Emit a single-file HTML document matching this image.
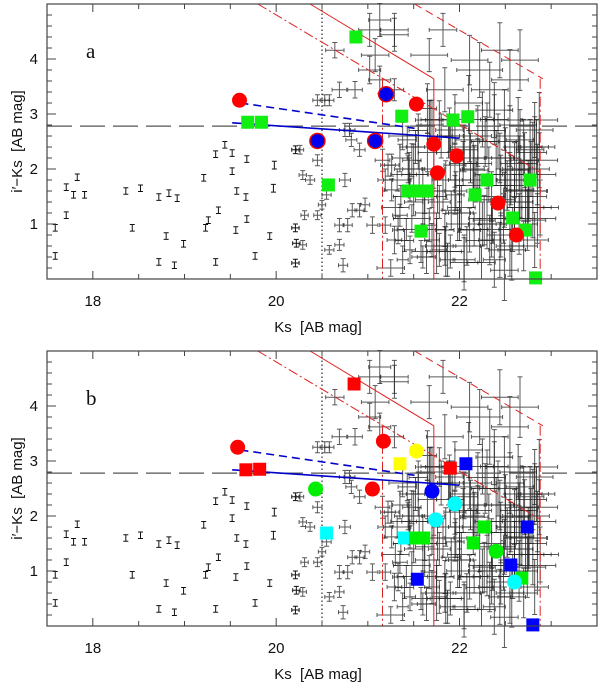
<!DOCTYPE html>
<html><head><meta charset="utf-8">
<style>
html,body{margin:0;padding:0;background:#fff;}
svg{display:block;font-family:"Liberation Sans",sans-serif;}
text{white-space:pre;}
</style></head>
<body>
<svg id="chart" width="600" height="682" viewBox="0 0 600 682" xmlns="http://www.w3.org/2000/svg"></svg>
<script>
// ---- data ----
const grayKs = [17.59,17.59,17.71,17.71,17.79,17.83,17.91,18.36,18.43,18.52,18.72,18.8,18.83,18.92,18.99,18.72,18.89,19.21,19.23,19.26,19.34,19.37,19.34,19.44,19.52,19.52,19.57,19.56,19.67,19.68,19.68,19.77,19.93,19.97,19.98,20.21,20.21,20.21,20.22,
20.26,20.29,20.37,20.45,20.45,20.53,20.58,20.5,20.45,20.55,20.31,20.29,20.58,20.69,20.75,20.8,20.69,20.64,20.75,20.82,20.86,20.91,20.83,20.91,20.97,20.69,20.78,20.73,21.05,21.19,21.16,21.22,21.08,21.02,21.13,21.29,21.26,21.19,21.26,21.35,21.33,21.38,21.46,21.29,21.46,21.43,21.48,21.62,21.67,21.7,21.78,21.84,21.87,21.91,21.95,22.0,21.95,21.84,21.78,21.67,21.89,22.05,22.11,22.16,22.22,22.27,22.33,22.38,22.44,22.11,22.05,22.49,22.55,22.6,22.66,22.71,22.77,22.66,22.49,22.38,22.33,22.22,22.11,22.44,22.55,22.66,22.82,22.87,22.87,22.74,22.57,22.49,22.82,21.82,21.67,21.29,21.13,21.02,21.29,
21.5,21.6,21.7,21.9,22.0,22.2,22.3,22.5,22.6,22.7,22.8,21.55,21.75,22.15,22.35,22.45,22.65,22.75,21.45,21.65,22.25,22.55,22.85,21.85,22.05,
21.3,21.35,21.4,21.45,21.5,21.55,21.6,21.65,21.7,21.75,21.8,21.85,21.9,21.95,22.0,22.05,22.1,22.15,22.2,22.25,22.3,22.35,22.4,22.45,22.5,22.55,22.6,22.65,22.7,22.75,22.8,22.85,
21.32,21.42,21.52,21.62,21.72,21.82,21.92,22.02,22.12,22.22,22.32,22.42,22.52,22.62,22.72,22.82,
21.38,21.58,21.78,21.98,22.18,22.38,22.58,22.78,21.48,21.68,21.88,22.08,22.28,22.48,22.68,22.88,
21.25,21.36,21.56,21.76,21.96,22.16,22.36,22.56,22.76,21.44,21.64,21.84,22.04,22.24,22.44,22.64,22.84];
const grayCol = [0.93,0.42,1.67,1.16,1.53,1.85,1.53,1.6,0.93,1.65,1.49,0.78,1.56,1.47,0.64,0.31,0.25,1.84,0.93,1.07,0.31,1.25,2.27,2.44,2.29,1.96,1.6,0.89,1.49,1.09,2.18,0.42,0.78,1.65,2.07,0.93,2.35,0.29,0.65,
2.35,1.89,1.8,2.16,3.25,3.25,3.25,1.35,1.16,1.53,1.16,0.62,0.53,0.62,1.8,2.71,3.44,4.16,2.71,2.53,3.44,2.35,1.25,1.25,1.35,0.98,0.98,0.25,0.98,0.98,2.16,2.07,4.07,3.8,3.62,3.44,2.07,1.8,1.62,1.16,0.89,0.35,0.53,0.71,1.62,2.53,2.16,1.44,0.98,0.71,0.53,0.89,0.35,1.25,1.53,1.8,2.07,3.44,2.89,2.89,2.71,2.35,2.53,1.98,1.44,1.07,0.71,0.35,0.53,0.89,0.35,1.44,1.8,1.98,1.62,2.16,2.35,2.53,2.89,3.07,3.44,3.8,3.98,4.16,3.62,3.98,2.71,2.89,2.16,1.07,0.53,0.16,0.71,4.53,4.07,4.44,4.71,4.53,4.53,
2.0,1.5,2.8,2.3,1.2,2.6,1.1,2.2,1.4,2.4,1.3,2.4,0.6,2.0,0.9,1.7,1.0,1.6,1.9,3.1,2.9,0.6,1.9,0.5,0.3,
1.3,2.2,0.7,1.9,1.4,2.7,0.4,2.3,1.6,0.9,2.6,1.8,0.5,2.9,1.2,2.4,3.2,1.7,2.1,1.0,2.7,1.5,2.2,0.8,1.9,2.6,1.4,2.1,0.6,1.5,2.3,1.1,
1.8,0.9,2.4,1.2,2.0,1.6,2.6,1.3,2.2,0.7,1.9,2.5,1.7,2.0,1.3,2.4,
2.6,0.5,1.4,1.0,1.8,2.9,0.9,2.0,1.1,2.9,2.6,0.6,2.5,1.1,1.6,1.3,
0.2,1.5,1.9,1.5,1.6,0.9,1.0,1.8,1.6,2.0,0.4,0.6,2.1,0.3,2.2,2.8,2.4];
const grayEk = [0.03,0.03,0.03,0.03,0.03,0.03,0.03,0.03,0.03,0.03,0.03,0.03,0.03,0.03,0.03,0.03,0.03,0.03,0.03,0.03,0.03,0.03,0.03,0.03,0.03,0.03,0.03,0.03,0.03,0.03,0.03,0.03,0.03,0.03,0.03,0.04,0.04,0.04,0.04,
0.04,0.04,0.05,0.05,0.05,0.05,0.05,0.04,0.04,0.05,0.04,0.04,0.05,0.05,0.06,0.06,0.08,0.1,0.06,0.06,0.08,0.06,0.05,0.05,0.05,0.05,0.05,0.05,0.06,0.06,0.08,0.08,0.15,0.12,0.12,0.1,0.08,0.08,0.08,0.08,0.06,0.06,0.06,0.08,0.08,0.1,0.1,0.1,0.08,0.08,0.08,0.1,0.08,0.1,0.1,0.12,0.12,0.2,0.15,0.15,0.15,0.15,0.15,0.15,0.12,0.12,0.12,0.12,0.12,0.12,0.12,0.12,0.15,0.15,0.15,0.15,0.15,0.15,0.2,0.2,0.2,0.25,0.2,0.2,0.2,0.2,0.2,0.2,0.2,0.2,0.15,0.15,0.15,0.15,0.2,0.15,0.12,0.12,0.15,0.12,
0.15,0.12,0.15,0.15,0.15,0.2,0.15,0.2,0.2,0.2,0.2,0.12,0.12,0.2,0.15,0.2,0.2,0.2,0.1,0.12,0.15,0.2,0.2,0.15,0.15,
0.08,0.1,0.08,0.1,0.1,0.12,0.1,0.12,0.1,0.12,0.15,0.12,0.15,0.12,0.15,0.15,0.2,0.15,0.15,0.2,0.15,0.2,0.15,0.2,0.15,0.2,0.2,0.15,0.2,0.15,0.2,0.15,
0.1,0.1,0.1,0.12,0.12,0.12,0.15,0.15,0.15,0.15,0.2,0.2,0.15,0.2,0.15,0.15,
0.1,0.12,0.12,0.15,0.15,0.15,0.2,0.2,0.1,0.12,0.15,0.15,0.15,0.2,0.2,0.15,
0.08,0.1,0.1,0.12,0.15,0.15,0.15,0.2,0.15,0.1,0.12,0.15,0.15,0.15,0.2,0.2,0.15];
const grayEc = [0.06,0.06,0.06,0.06,0.06,0.06,0.06,0.06,0.06,0.06,0.06,0.06,0.06,0.06,0.06,0.06,0.06,0.06,0.06,0.06,0.06,0.06,0.06,0.06,0.06,0.06,0.06,0.06,0.06,0.06,0.06,0.06,0.06,0.07,0.07,0.07,0.07,0.07,0.07,
0.08,0.08,0.08,0.1,0.1,0.1,0.1,0.08,0.08,0.08,0.08,0.08,0.08,0.1,0.12,0.12,0.14,0.14,0.12,0.12,0.15,0.12,0.12,0.12,0.12,0.12,0.12,0.12,0.15,0.15,0.2,0.2,0.3,0.25,0.25,0.2,0.2,0.2,0.2,0.2,0.25,0.25,0.25,0.25,0.2,0.25,0.3,0.25,0.3,0.3,0.3,0.3,0.3,0.35,0.35,0.4,0.4,0.4,0.35,0.35,0.4,0.4,0.4,0.45,0.45,0.45,0.45,0.5,0.5,0.4,0.4,0.5,0.5,0.5,0.5,0.5,0.55,0.55,0.55,0.5,0.5,0.5,0.45,0.5,0.55,0.55,0.5,0.5,0.5,0.55,0.55,0.55,0.5,0.3,0.3,0.3,0.3,0.3,0.3,
0.45,0.5,0.45,0.5,0.5,0.55,0.55,0.55,0.5,0.5,0.55,0.4,0.5,0.5,0.5,0.55,0.55,0.55,0.4,0.45,0.5,0.55,0.55,0.45,0.5,
0.2,0.25,0.2,0.3,0.25,0.3,0.2,0.35,0.3,0.3,0.4,0.35,0.3,0.45,0.35,0.4,0.5,0.4,0.45,0.4,0.5,0.45,0.5,0.4,0.5,0.55,0.5,0.5,0.45,0.5,0.55,0.45,
0.2,0.2,0.3,0.3,0.35,0.35,0.4,0.4,0.45,0.4,0.5,0.5,0.45,0.5,0.5,0.55,
0.25,0.2,0.3,0.3,0.4,0.45,0.4,0.5,0.25,0.35,0.4,0.35,0.45,0.45,0.5,0.5,
0.15,0.2,0.25,0.3,0.35,0.3,0.35,0.45,0.5,0.25,0.3,0.35,0.4,0.3,0.45,0.5,0.5];

// panel a highlighted sources
const aRedKs=[19.6,21.53,21.72,21.97,21.76,22.42,22.62], aRedCol=[3.25,3.18,2.45,2.24,1.93,1.38,0.8];
const aBlueKs=[20.45,21.08,21.2], aBlueCol=[2.51,2.51,3.36];
const aGreenKs=[19.69,19.84,20.87,20.57,21.37,21.44,21.57,21.65,21.58,21.93,22.09,22.3,22.17,22.77,22.58,22.72,22.83];
const aGreenCol=[2.85,2.85,4.4,1.71,2.96,1.6,1.6,1.6,0.87,2.89,2.95,1.8,1.53,1.8,1.11,0.89,0.02];

// panel b highlighted sources
const bCircKs=[19.58,21.17,21.05,21.53,20.43,21.7,21.95,21.74,22.4,22.6];
const bCircCol=[3.25,3.36,2.49,3.18,2.49,2.45,2.22,1.93,1.36,0.8];
const bCircColor=["#f00","#f00","#f00","#ff0","#0e0","#00f","#0ff","#0ff","#0e0","#0ff"];
const bSqKs=[19.67,19.82,20.85,21.35,21.9,22.07,22.27,22.74,20.55,21.4,21.52,21.61,22.15,22.56,21.54,22.68,22.8];
const bSqCol=[2.84,2.85,4.4,2.95,2.87,2.95,1.8,1.8,1.69,1.6,1.6,1.6,1.51,1.11,0.85,0.87,0.02];
const bSqColor=["#f00","#f00","#f00","#ff0","#f00","#00f","#0e0","#00f","#0ff","#0ff","#0e0","#0e0","#0e0","#00f","#00f","#0e0","#00f"];

const xTicks=[18,20,22], yTicks=[1,2,3,4];

// ---- drawing ----
const NS="http://www.w3.org/2000/svg";
const svg=document.getElementById("chart");
const X0=47,X1=597,KMIN=17.5,KMAX=23.5;
function sx(k){return X0+(k-KMIN)/(KMAX-KMIN)*(X1-X0);}
function mk(tag,attrs,parent){const e=document.createElementNS(NS,tag);for(const a in attrs)e.setAttribute(a,attrs[a]);(parent||svg).appendChild(e);return e;}

function panel(top,bottom,label,which){
  const g=mk("g",{});
  
  
  const sy=c=>bottom-(c/5)*(bottom-top);
  for(let i=0;i<grayKs.length;i++){
    const x=sx(grayKs[i]),y=sy(grayCol[i]);
    const dx=grayEk[i]/(KMAX-KMIN)*(X1-X0), dy=grayEc[i]/5*(bottom-top);
    let d=`M${x},${y-dy}V${y+dy}M${x-2.5},${y-dy}H${x+2.5}M${x-2.5},${y+dy}H${x+2.5}`;
    if(dx>3) d+=`M${x-dx},${y}H${x+dx}M${x-dx},${y-2}V${y+2}M${x+dx},${y-2}V${y+2}`;
    const p=mk("path",{d,stroke:i<39?"#111":"#222","stroke-width":1,fill:"none","stroke-opacity":i<39?1:0.75},g);
    
    
  }
  const ln=(k1,c1,k2,c2,st,col,dash,name)=>{const l=mk("line",{x1:sx(k1),y1:sy(c1),x2:sx(k2),y2:sy(c2),stroke:col,"stroke-width":st,"stroke-dasharray":dash||"none"},g);
    };
  ln(20.5,0,20.5,5,1,"#000","1.5,2.5","ks-limit-dotted");
  ln(17.5,2.78,23.5,2.78,1.2,"#555","25,8","red-cut-dashed");
  ln(20.37,5,21.72,3.64,1,"#d22","","completeness-solid");
  ln(21.72,3.64,21.72,0,1,"#d22","","completeness-solid-vertical");
  ln(19.8,5,22.87,1.95,1,"#d22","10,3,2,3","completeness-dashdot");
  ln(21.16,3.64,21.16,0,1,"#d22","10,3,2,3","completeness-dashdot-vertical");
  ln(21.51,5,22.91,3.64,1,"#d22","8,5","completeness-dashed");
  ln(22.88,3.64,22.88,0,1,"#d22","10,3,2,3","completeness-dashed-vertical");
  ln(19.52,2.84,22.0,2.56,1.6,"#00c","","blue-fit-solid");
  ln(19.61,3.2,21.51,2.74,1.6,"#00c","8,5","blue-fit-dashed");
  const circ=(k,c,fill,stroke,name)=>{const e=mk("circle",{cx:sx(k),cy:sy(c),r:7.5,fill,stroke:stroke||"none","stroke-width":1.5},g);
    };
  const sq=(k,c,fill,name)=>{const e=mk("rect",{x:sx(k)-6.5,y:sy(c)-6.5,width:13,height:13,fill},g);
    };
  if(which==="a"){
    aGreenKs.forEach((k,i)=>sq(k,aGreenCol[i],"#1e1","green-square-marker"));
    aRedKs.forEach((k,i)=>circ(k,aRedCol[i],"#f00","","red-circle-marker"));
    aBlueKs.forEach((k,i)=>circ(k,aBlueCol[i],"#00e","#e00","blue-circle-marker"));
  } else {
    bSqKs.forEach((k,i)=>sq(k,bSqCol[i],bSqColor[i],"colored-square-marker"));
    bCircKs.forEach((k,i)=>circ(k,bCircCol[i],bCircColor[i],"","colored-circle-marker"));
  }
  const fr=mk("rect",{x:X0,y:top,width:X1-X0,height:bottom-top,fill:"none",stroke:"#444","stroke-width":1.2},g);
  
  for(let k=18;k<=23.01;k+=0.5){
    const major=Math.abs(k-Math.round(k/2)*2)<0.01;const L=major?8:5;const x=sx(k);
    mk("line",{x1:x,y1:bottom,x2:x,y2:bottom-L,stroke:"#444"},g);
    mk("line",{x1:x,y1:top,x2:x,y2:top+L,stroke:"#444"},g);
  }
  xTicks.forEach(k=>{const t=mk("text",{x:sx(k),y:bottom+27,"font-size":15,"text-anchor":"middle",fill:"#111"},g);t.textContent=k;
    });
  for(let c=0.2;c<4.99;c+=0.2){
    const major=Math.abs(c-Math.round(c))<0.01;const L=major?9:5;const y=sy(c);
    mk("line",{x1:X0,y1:y,x2:X0+L,y2:y,stroke:"#444"},g);
    mk("line",{x1:X1,y1:y,x2:X1-L,y2:y,stroke:"#444"},g);
  }
  yTicks.forEach(c=>{const t=mk("text",{x:38,y:sy(c)+5,"font-size":15,"text-anchor":"end",fill:"#111"},g);t.textContent=c;
    });
  const xl=mk("text",{x:318,y:bottom+53,"font-size":15,"text-anchor":"middle",fill:"#111"},g);xl.textContent="Ks  [AB mag]";
  
  const cy=(top+bottom)/2;
  const yl=mk("text",{x:22,y:cy,"font-size":15,"text-anchor":"middle",fill:"#111",transform:`rotate(-90 22 ${cy})`},g);yl.textContent="i\u2032\u2212Ks  [AB mag]";
  
  const pl=mk("text",{x:86,y:top+54,"font-size":21,fill:"#111","font-family":"Liberation Serif, serif"},g);pl.textContent=label;
  
}
panel(4,279,"a","a");
panel(351,626,"b","b");
</script>
</body></html>
